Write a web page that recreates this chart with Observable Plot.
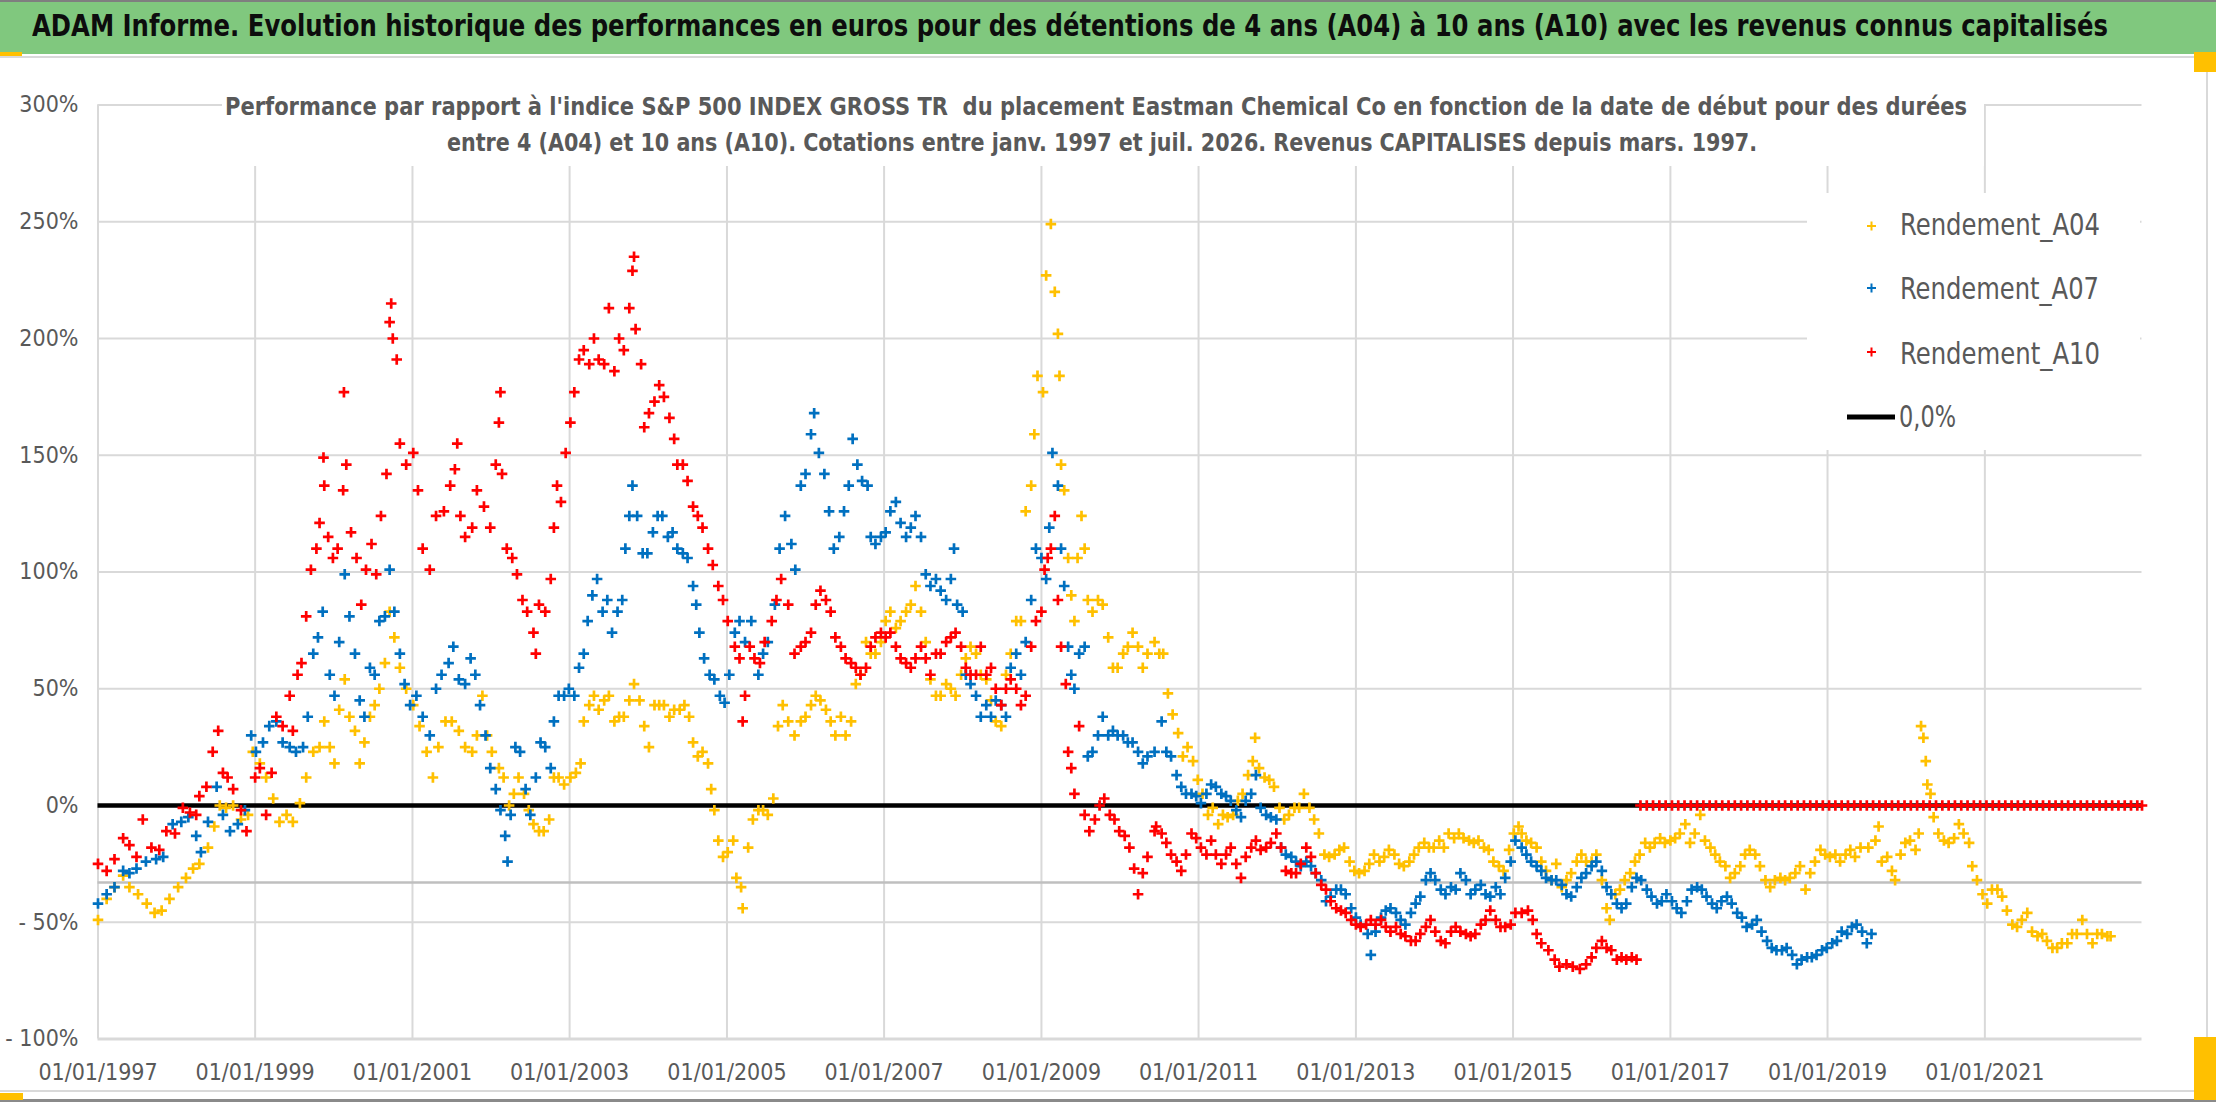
<!DOCTYPE html>
<html>
<head>
<meta charset="utf-8">
<script src="https://cdn.jsdelivr.net/npm/d3@7"></script>
<script src="https://cdn.jsdelivr.net/npm/@observablehq/plot@0.6"></script>
<style>
  body { margin: 0; background: #fff; }
  #chart { position: relative; width: 2216px; height: 1102px; overflow: hidden;
    font-family: "Liberation Sans Narrow", "DejaVu Sans Condensed", "Roboto", sans-serif; }
  #titlebar { position: absolute; left: 0; top: 0; width: 2216px; height: 54px; background: #80c87e;
    border-top: 2px solid #7f7f7f; box-sizing: border-box; }
  #frame { position: absolute; left: 0; top: 56px; width: 2208px; height: 1036px;
    border: 2px solid #d9d9d9; border-left: none; box-sizing: border-box; }
  #bottomline { position: absolute; left: 0; top: 1099px; width: 2216px; height: 3px; background: #8a8a8a; }
  #plot { position: absolute; left: 0; top: 54px; }
  .fit { position: absolute; white-space: pre; transform-origin: 0 0; line-height: 1; }
  #title { top: 11px; font-size: 30px; font-weight: bold; color: #0d0d0d; }
  #subbox { position: absolute; left: 222px; top: 88px; width: 1762px; height: 78px; background: #fff; }
  .sub { font-size: 25px; font-weight: bold; color: #595959; }
  .leg { font-size: 30px; color: #595959; }
  #legend { position: absolute; left: 1807px; top: 193px; width: 333px; height: 257px; background: #fff; }
  .handle { position: absolute; background: #ffc000; }
</style>
</head>
<body>
<div id="chart">
  <div id="frame"></div>
  <div id="plot"></div>
  <div id="titlebar"></div>
  <div id="title" class="fit"></div>
  <div id="subbox"></div>
  <div id="sub1" class="fit sub"></div>
  <div id="sub2" class="fit sub"></div>
  <div id="legend"></div>
  <div id="bottomline"></div>
</div>
<script>
// Texts
const titleText = "ADAM Informe. Evolution historique des performances en euros pour des détentions de 4 ans (A04) à 10 ans (A10) avec les revenus connus capitalisés";
const subtitleLines = [
  "Performance par rapport à l'indice S&P 500 INDEX GROSS TR  du placement Eastman Chemical Co en fonction de la date de début pour des durées",
  "entre 4 (A04) et 10 ans (A10). Cotations entre janv. 1997 et juil. 2026. Revenus CAPITALISES depuis mars. 1997."
];
const seriesNames = ["Rendement_A04", "Rendement_A07", "Rendement_A10"];
const zeroName = "0,0%";

// Axes
const xTickYears = [1997, 1999, 2001, 2003, 2005, 2007, 2009, 2011, 2013, 2015, 2017, 2019, 2021];
const xDomainYears = [1997, 2023];
const yTicks = [-100, -50, 0, 50, 100, 150, 200, 250, 300];
const yDomain = [-100, 300];
const thresholdLevel = -33; // grey horizontal line under the zero line

// Series: [start date as decimal year, performance in %]
const a04 = [
[1997.00,-49],[1997.11,-40],[1997.21,-35],[1997.32,-30],[1997.40,-35],[1997.51,-38],[1997.62,-42],[1997.72,-46],[1997.81,-45],[1997.91,-40],
[1998.02,-35],[1998.12,-31],[1998.21,-27],[1998.29,-25],[1998.40,-18],[1998.48,-9],[1998.55,0],[1998.63,-1],[1998.72,0],[1998.82,-6],[1998.91,-4],[1998.97,23],
[1999.06,18],[1999.14,12],[1999.23,3],[1999.31,-7],[1999.40,-4],[1999.48,-7],[1999.57,1],[1999.65,12],[1999.74,23],[1999.82,25],[1999.88,36],[1999.95,25],
[2000.01,18],[2000.07,41],[2000.14,54],[2000.20,38],[2000.27,32],[2000.33,18],[2000.39,27],[2000.46,38],[2000.52,43],[2000.58,50],[2000.65,61],[2000.71,83],[2000.77,72],[2000.84,59],[2000.92,50],
[2001.01,43],[2001.09,34],[2001.18,23],[2001.26,12],[2001.33,25],[2001.42,36],[2001.50,36],[2001.59,32],[2001.67,25],[2001.76,23],[2001.82,30],[2001.89,47],[2001.95,30],
[2002.01,23],[2002.10,16],[2002.16,12],[2002.23,0],[2002.29,5],[2002.35,12],[2002.42,5],[2002.48,-2],[2002.54,-8],[2002.61,-11],[2002.67,-11],[2002.74,-6],[2002.80,12],[2002.86,12],[2002.93,9],
[2003.01,12],[2003.08,14],[2003.14,18],[2003.18,36],[2003.25,43],[2003.31,47],[2003.37,41],[2003.44,45],[2003.50,47],[2003.57,36],[2003.63,38],[2003.69,38],[2003.76,45],[2003.82,52],[2003.89,45],[2003.95,34],
[2004.01,25],[2004.08,43],[2004.14,43],[2004.20,43],[2004.27,38],[2004.33,41],[2004.40,41],[2004.46,43],[2004.52,38],[2004.57,27],[2004.63,21],[2004.69,23],[2004.76,18],[2004.80,7],[2004.84,-2],[2004.89,-15],[2004.95,-22],
[2005.01,-20],[2005.08,-15],[2005.12,-31],[2005.18,-35],[2005.20,-44],[2005.27,-18],[2005.33,-6],[2005.40,-2],[2005.46,-2],[2005.52,-4],[2005.59,3],[2005.65,34],[2005.71,43],[2005.78,36],[2005.86,30],[2005.94,36],
[2006.00,38],[2006.07,43],[2006.13,47],[2006.19,45],[2006.26,41],[2006.32,36],[2006.38,30],[2006.45,38],[2006.51,30],[2006.58,36],[2006.64,52],[2006.70,56],[2006.77,70],[2006.83,65],[2006.89,65],[2006.96,70],
[2007.02,79],[2007.08,83],[2007.15,76],[2007.21,79],[2007.28,83],[2007.34,86],[2007.40,94],[2007.47,83],[2007.53,70],[2007.59,54],[2007.66,47],[2007.72,47],[2007.79,52],[2007.85,50],[2007.91,47],[2007.98,56],
[2008.04,63],[2008.10,68],[2008.17,65],[2008.23,56],[2008.30,54],[2008.36,45],[2008.42,36],[2008.49,34],[2008.55,56],[2008.61,65],[2008.68,79],[2008.74,79],[2008.80,126],[2008.87,137],[2008.91,159],[2008.95,184],
[2009.02,177],[2009.06,227],[2009.12,249],[2009.17,220],[2009.21,202],[2009.23,184],[2009.25,146],[2009.29,135],[2009.34,106],[2009.38,90],[2009.42,79],[2009.46,106],[2009.51,124],[2009.55,110],[2009.59,88],[2009.65,83],[2009.72,88],[2009.78,86],[2009.85,72],[2009.91,59],[2009.97,59],
[2010.04,65],[2010.10,68],[2010.16,74],[2010.23,68],[2010.29,59],[2010.35,65],[2010.44,70],[2010.50,65],[2010.55,65],[2010.61,48],[2010.67,39],[2010.74,31],[2010.80,21],[2010.86,25],[2010.93,19],[2010.99,11],
[2011.05,5],[2011.12,-4],[2011.18,-1],[2011.25,-8],[2011.31,-4],[2011.37,-5],[2011.44,-4],[2011.50,2],[2011.56,5],[2011.63,13],[2011.69,19],[2011.72,29],[2011.77,16],[2011.84,12],[2011.90,11],[2011.96,8],
[2012.03,-1],[2012.09,-6],[2012.15,-4],[2012.22,-1],[2012.28,-1],[2012.34,5],[2012.41,-1],[2012.47,-6],[2012.53,-12],[2012.60,-21],[2012.66,-22],[2012.73,-21],[2012.79,-19],[2012.85,-18],[2012.92,-24],[2012.98,-28],
[2013.04,-29],[2013.11,-28],[2013.17,-25],[2013.23,-21],[2013.30,-24],[2013.36,-22],[2013.42,-19],[2013.49,-21],[2013.55,-25],[2013.61,-26],[2013.68,-24],[2013.74,-21],[2013.80,-18],[2013.87,-16],[2013.93,-18],[2013.99,-18],
[2014.06,-15],[2014.12,-18],[2014.18,-12],[2014.25,-14],[2014.31,-12],[2014.37,-14],[2014.44,-15],[2014.50,-16],[2014.56,-15],[2014.63,-18],[2014.69,-19],[2014.75,-24],[2014.82,-26],[2014.88,-28],[2014.95,-19],
[2015.01,-12],[2015.07,-9],[2015.11,-12],[2015.17,-15],[2015.23,-16],[2015.30,-18],[2015.36,-24],[2015.42,-28],[2015.49,-32],[2015.55,-25],[2015.62,-35],[2015.68,-32],[2015.74,-29],[2015.81,-24],[2015.87,-21],[2015.93,-24],
[2016.00,-24],[2016.06,-21],[2016.13,-32],[2016.19,-44],[2016.23,-49],[2016.30,-38],[2016.36,-36],[2016.42,-32],[2016.49,-29],[2016.55,-24],[2016.61,-21],[2016.68,-16],[2016.74,-18],[2016.80,-16],[2016.87,-14],[2016.93,-16],
[2017.00,-15],[2017.06,-14],[2017.12,-12],[2017.19,-8],[2017.25,-16],[2017.31,-12],[2017.38,-4],[2017.44,-15],[2017.51,-18],[2017.57,-21],[2017.63,-24],[2017.70,-26],[2017.76,-31],[2017.82,-29],[2017.89,-26],[2017.95,-21],
[2018.01,-19],[2018.08,-21],[2018.14,-26],[2018.21,-32],[2018.27,-35],[2018.33,-32],[2018.40,-31],[2018.46,-32],[2018.52,-31],[2018.59,-29],[2018.65,-26],[2018.72,-36],[2018.78,-29],[2018.84,-24],[2018.91,-19],[2018.97,-21],
[2019.03,-22],[2019.10,-21],[2019.16,-24],[2019.23,-21],[2019.29,-19],[2019.35,-22],[2019.42,-18],[2019.52,-18],[2019.61,-15],[2019.65,-9],[2019.69,-24],[2019.76,-22],[2019.82,-28],[2019.86,-32],[2019.93,-21],[2019.99,-16],
[2020.05,-15],[2020.12,-19],[2020.16,-12],[2020.19,34],[2020.22,29],[2020.25,19],[2020.27,9],[2020.31,5],[2020.35,-5],[2020.41,-12],[2020.48,-15],[2020.54,-16],[2020.61,-14],[2020.67,-8],[2020.73,-12],[2020.80,-16],[2020.84,-26],[2020.90,-32],[2020.97,-38],
[2021.03,-42],[2021.09,-36],[2021.16,-36],[2021.22,-39],[2021.28,-45],[2021.35,-51],[2021.41,-52],[2021.47,-49],[2021.54,-46],[2021.60,-54],[2021.67,-56],[2021.73,-55],[2021.79,-58],[2021.86,-61],[2021.92,-61],[2021.98,-59],
[2022.05,-59],[2022.11,-55],[2022.17,-55],[2022.24,-49],[2022.30,-55],[2022.37,-59],[2022.43,-55],[2022.49,-55],[2022.56,-56],[2022.60,-56]
];

const a07 = [
[1997.00,-42],[1997.11,-38],[1997.21,-35],[1997.32,-28],[1997.40,-29],[1997.49,-27],[1997.61,-24],[1997.74,-23],[1997.83,-22],[1997.95,-8],
[1998.06,-7],[1998.15,-5],[1998.25,-13],[1998.31,-20],[1998.40,-7],[1998.51,8],[1998.59,-4],[1998.68,-11],[1998.78,-8],[1998.87,-2],[1998.95,30],
[1999.01,23],[1999.10,27],[1999.18,34],[1999.27,36],[1999.35,27],[1999.44,25],[1999.52,23],[1999.61,25],[1999.67,38],[1999.74,65],[1999.80,72],[1999.86,83],[1999.95,56],
[2000.01,47],[2000.07,70],[2000.14,99],[2000.20,81],[2000.27,65],[2000.33,45],[2000.39,38],[2000.46,59],[2000.52,56],[2000.58,79],[2000.65,81],[2000.71,101],[2000.77,83],[2000.84,65],[2000.90,52],[2000.97,43],
[2001.05,47],[2001.13,38],[2001.22,30],[2001.30,50],[2001.37,56],[2001.46,61],[2001.52,68],[2001.59,54],[2001.67,52],[2001.74,63],[2001.80,56],[2001.86,43],[2001.93,30],[2001.99,16],
[2002.06,7],[2002.12,-2],[2002.18,-13],[2002.21,-24],[2002.25,-4],[2002.31,25],[2002.37,23],[2002.44,7],[2002.50,-4],[2002.57,12],[2002.63,27],[2002.69,25],[2002.76,16],[2002.80,36],[2002.86,47],[2002.93,47],[2002.99,50],
[2003.06,47],[2003.12,59],[2003.18,65],[2003.23,79],[2003.29,90],[2003.35,97],[2003.42,83],[2003.48,88],[2003.54,74],[2003.61,83],[2003.67,88],[2003.71,110],[2003.76,124],[2003.80,137],[2003.86,124],[2003.93,108],[2003.99,108],
[2004.06,117],[2004.12,124],[2004.18,124],[2004.25,115],[2004.31,117],[2004.37,110],[2004.44,108],[2004.50,106],[2004.57,94],[2004.61,86],[2004.65,74],[2004.71,63],[2004.78,56],[2004.84,54],[2004.91,47],[2004.97,44],
[2005.03,56],[2005.10,74],[2005.16,79],[2005.23,70],[2005.31,79],[2005.40,56],[2005.46,65],[2005.52,70],[2005.61,86],[2005.67,110],[2005.74,124],[2005.82,112],[2005.87,101],[2005.94,137],
[2006.00,142],[2006.07,159],[2006.11,168],[2006.17,151],[2006.24,142],[2006.30,126],[2006.36,110],[2006.43,115],[2006.49,126],[2006.55,137],[2006.60,157],[2006.66,146],[2006.72,139],[2006.79,137],[2006.83,115],[2006.89,112],[2006.96,115],
[2007.02,117],[2007.08,126],[2007.15,130],[2007.21,121],[2007.28,115],[2007.34,119],[2007.40,124],[2007.47,115],[2007.53,99],[2007.59,94],[2007.66,97],[2007.72,92],[2007.79,88],[2007.85,97],[2007.89,110],[2007.93,86],
[2008.00,83],[2008.04,56],[2008.10,52],[2008.17,47],[2008.23,38],[2008.30,43],[2008.36,38],[2008.42,45],[2008.49,43],[2008.55,38],[2008.61,59],[2008.68,65],[2008.74,56],[2008.80,70],[2008.87,88],[2008.93,110],
[2009.00,106],[2009.06,97],[2009.10,119],[2009.14,151],[2009.21,137],[2009.25,110],[2009.29,94],[2009.34,68],[2009.38,56],[2009.42,50],[2009.48,65],[2009.55,68],[2009.59,21],[2009.65,23],[2009.72,30],[2009.78,38],[2009.85,30],[2009.91,32],[2009.97,30],
[2010.04,30],[2010.10,27],[2010.16,27],[2010.23,23],[2010.29,18],[2010.35,21],[2010.44,23],[2010.53,36],[2010.59,23],[2010.65,21],[2010.72,13],[2010.78,8],[2010.84,5],[2010.91,5],[2010.97,4],
[2011.03,1],[2011.10,5],[2011.16,9],[2011.22,8],[2011.29,5],[2011.35,4],[2011.41,2],[2011.48,-2],[2011.54,-5],[2011.60,2],[2011.67,5],[2011.73,13],[2011.79,-1],[2011.86,-4],[2011.92,-5],[2011.99,-6],
[2012.05,-18],[2012.11,-21],[2012.18,-22],[2012.24,-24],[2012.30,-26],[2012.37,-24],[2012.43,-26],[2012.49,-29],[2012.56,-32],[2012.62,-41],[2012.68,-39],[2012.75,-36],[2012.81,-36],[2012.87,-38],[2012.94,-44],
[2013.00,-48],[2013.06,-51],[2013.15,-55],[2013.19,-64],[2013.25,-54],[2013.32,-48],[2013.38,-45],[2013.44,-44],[2013.51,-46],[2013.57,-49],[2013.63,-51],[2013.70,-46],[2013.76,-42],[2013.82,-39],[2013.89,-32],[2013.95,-29],
[2014.01,-32],[2014.08,-36],[2014.14,-38],[2014.21,-35],[2014.27,-36],[2014.33,-29],[2014.40,-32],[2014.46,-38],[2014.52,-36],[2014.59,-34],[2014.65,-38],[2014.71,-39],[2014.78,-35],[2014.84,-38],[2014.90,-31],[2014.97,-24],
[2015.03,-15],[2015.11,-18],[2015.17,-21],[2015.23,-24],[2015.30,-26],[2015.36,-28],[2015.42,-31],[2015.49,-32],[2015.55,-32],[2015.62,-34],[2015.68,-38],[2015.74,-39],[2015.81,-35],[2015.87,-31],[2015.93,-29],
[2016.00,-26],[2016.06,-24],[2016.13,-28],[2016.19,-35],[2016.25,-38],[2016.32,-42],[2016.38,-44],[2016.44,-42],[2016.51,-35],[2016.57,-31],[2016.63,-32],[2016.70,-36],[2016.76,-39],[2016.83,-42],[2016.89,-41],[2016.95,-38],
[2017.02,-41],[2017.08,-44],[2017.14,-46],[2017.21,-41],[2017.27,-36],[2017.34,-35],[2017.40,-36],[2017.46,-39],[2017.53,-42],[2017.59,-44],[2017.65,-41],[2017.72,-39],[2017.78,-42],[2017.85,-46],[2017.91,-48],[2017.97,-52],
[2018.04,-51],[2018.10,-49],[2018.16,-54],[2018.23,-58],[2018.29,-61],[2018.35,-62],[2018.42,-62],[2018.48,-61],[2018.55,-64],[2018.61,-68],[2018.67,-66],[2018.74,-65],[2018.80,-65],[2018.86,-64],[2018.93,-62],[2018.99,-61],
[2019.06,-59],[2019.12,-58],[2019.18,-54],[2019.25,-55],[2019.31,-52],[2019.37,-51],[2019.44,-54],[2019.50,-59],[2019.56,-55]
];

const a10 = [
[1997.00,-25],[1997.11,-28],[1997.21,-23],[1997.32,-14],[1997.40,-17],[1997.49,-22],[1997.57,-6],[1997.68,-18],[1997.78,-19],[1997.87,-11],[1997.98,-12],
[1998.08,-1],[1998.17,-3],[1998.25,-4],[1998.29,4],[1998.38,8],[1998.46,23],[1998.53,32],[1998.59,14],[1998.65,12],[1998.72,7],[1998.82,-2],[1998.89,-11],
[1999.00,12],[1999.06,16],[1999.14,-4],[1999.21,14],[1999.27,38],[1999.35,34],[1999.44,47],[1999.48,32],[1999.54,56],[1999.59,61],[1999.65,81],[1999.71,101],[1999.78,110],[1999.82,121],[1999.87,149],[1999.88,137],[1999.93,115],[1999.99,106],
[2000.05,110],[2000.12,135],[2000.13,177],[2000.16,146],[2000.22,117],[2000.29,106],[2000.35,86],[2000.41,101],[2000.48,112],[2000.54,99],[2000.60,124],[2000.67,142],[2000.71,207],[2000.73,215],[2000.75,200],[2000.80,191],[2000.84,155],[2000.92,146],
[2001.01,151],[2001.07,135],[2001.13,110],[2001.22,101],[2001.30,124],[2001.40,126],[2001.48,137],[2001.54,144],[2001.57,155],[2001.61,124],[2001.67,115],[2001.76,119],[2001.82,135],[2001.91,128],[2001.99,119],
[2002.06,146],[2002.10,164],[2002.12,177],[2002.14,142],[2002.20,110],[2002.27,106],[2002.33,99],[2002.40,88],[2002.46,83],[2002.54,74],[2002.57,65],[2002.61,86],[2002.69,83],[2002.76,97],[2002.80,119],[2002.84,137],[2002.89,130],[2002.95,151],
[2003.01,164],[2003.06,177],[2003.12,191],[2003.18,195],[2003.25,189],[2003.31,200],[2003.37,191],[2003.44,189],[2003.50,213],[2003.57,186],[2003.63,200],[2003.69,195],[2003.76,213],[2003.80,229],[2003.82,235],[2003.84,204],[2003.91,189],[2003.95,162],
[2004.01,168],[2004.08,173],[2004.14,180],[2004.20,175],[2004.27,166],[2004.33,157],[2004.37,146],[2004.44,146],[2004.50,139],[2004.57,128],[2004.63,124],[2004.69,119],[2004.76,110],[2004.82,103],[2004.89,94],[2004.95,88],
[2005.01,79],[2005.10,68],[2005.16,63],[2005.20,36],[2005.23,47],[2005.29,68],[2005.35,63],[2005.42,61],[2005.48,70],[2005.57,79],[2005.63,88],[2005.69,97],[2005.78,86],[2005.86,65],[2005.94,68],
[2006.00,70],[2006.07,74],[2006.13,86],[2006.19,92],[2006.26,88],[2006.32,83],[2006.38,72],[2006.45,68],[2006.51,63],[2006.58,61],[2006.64,59],[2006.70,56],[2006.77,59],[2006.83,68],[2006.89,72],[2006.96,74],
[2007.02,72],[2007.08,74],[2007.15,68],[2007.21,63],[2007.28,61],[2007.34,59],[2007.40,63],[2007.47,68],[2007.53,63],[2007.59,56],[2007.66,65],[2007.72,65],[2007.79,70],[2007.85,72],[2007.91,74],[2007.98,68],
[2008.04,59],[2008.10,56],[2008.17,56],[2008.23,68],[2008.30,56],[2008.36,59],[2008.42,50],[2008.49,43],[2008.55,50],[2008.61,54],[2008.68,50],[2008.74,43],[2008.80,47],[2008.87,68],[2008.93,79],
[2009.00,83],[2009.04,101],[2009.08,106],[2009.12,110],[2009.17,124],[2009.21,88],[2009.25,68],[2009.31,52],[2009.34,23],[2009.38,16],[2009.42,5],[2009.48,34],[2009.55,-4],[2009.61,-11],[2009.68,-6],[2009.74,0],[2009.80,3],[2009.87,-4],[2009.93,-6],[2009.99,-11],
[2010.06,-13],[2010.12,-18],[2010.18,-27],[2010.23,-38],[2010.29,-29],[2010.35,-22],[2010.44,-11],[2010.46,-9],[2010.53,-12],[2010.59,-16],[2010.65,-21],[2010.72,-24],[2010.78,-28],[2010.84,-21],[2010.91,-12],[2010.97,-14],
[2011.03,-18],[2011.10,-21],[2011.16,-15],[2011.22,-21],[2011.29,-25],[2011.35,-21],[2011.41,-18],[2011.48,-25],[2011.54,-31],[2011.60,-22],[2011.67,-18],[2011.73,-15],[2011.79,-19],[2011.86,-18],[2011.92,-16],[2011.99,-12],
[2012.05,-18],[2012.11,-28],[2012.18,-29],[2012.24,-29],[2012.30,-25],[2012.37,-18],[2012.43,-22],[2012.49,-29],[2012.56,-34],[2012.62,-36],[2012.68,-41],[2012.75,-44],[2012.81,-45],[2012.87,-46],[2012.94,-49],
[2013.00,-51],[2013.06,-52],[2013.13,-51],[2013.19,-49],[2013.25,-51],[2013.32,-49],[2013.38,-52],[2013.44,-54],[2013.51,-52],[2013.57,-55],[2013.63,-56],[2013.70,-58],[2013.76,-58],[2013.82,-55],[2013.89,-52],[2013.95,-49],
[2014.01,-54],[2014.08,-58],[2014.14,-59],[2014.21,-54],[2014.27,-52],[2014.33,-54],[2014.40,-55],[2014.46,-56],[2014.52,-55],[2014.59,-51],[2014.65,-49],[2014.71,-45],[2014.78,-49],[2014.84,-52],[2014.90,-52],[2014.97,-51],
[2015.03,-46],[2015.11,-46],[2015.19,-45],[2015.25,-49],[2015.30,-55],[2015.36,-59],[2015.45,-62],[2015.53,-66],[2015.59,-69],[2015.68,-68],[2015.76,-69],[2015.85,-70],[2015.93,-68],
[2016.00,-65],[2016.06,-61],[2016.13,-58],[2016.19,-61],[2016.25,-62],[2016.32,-66],[2016.38,-65],[2016.44,-66],[2016.51,-65],[2016.57,-66],
[2016.62,0],[2016.70,0],[2016.78,0],[2016.86,0],[2016.94,0],[2017.02,0],[2017.10,0],[2017.18,0],[2017.26,0],[2017.34,0],[2017.42,0],[2017.50,0],[2017.58,0],[2017.66,0],[2017.74,0],[2017.82,0],[2017.90,0],[2017.98,0],
[2018.06,0],[2018.14,0],[2018.22,0],[2018.30,0],[2018.38,0],[2018.46,0],[2018.54,0],[2018.62,0],[2018.70,0],[2018.78,0],[2018.86,0],[2018.94,0],[2019.02,0],[2019.10,0],[2019.18,0],[2019.26,0],[2019.34,0],[2019.42,0],
[2019.50,0],[2019.58,0],[2019.66,0],[2019.74,0],[2019.82,0],[2019.90,0],[2019.98,0],[2020.06,0],[2020.14,0],[2020.22,0],[2020.30,0],[2020.38,0],[2020.46,0],[2020.54,0],[2020.62,0],[2020.70,0],[2020.78,0],[2020.86,0],
[2020.94,0],[2021.02,0],[2021.10,0],[2021.18,0],[2021.26,0],[2021.34,0],[2021.42,0],[2021.50,0],[2021.58,0],[2021.66,0],[2021.74,0],[2021.82,0],[2021.90,0],[2021.98,0],[2022.06,0],[2022.14,0],[2022.22,0],[2022.30,0],
[2022.38,0],[2022.46,0],[2022.54,0],[2022.62,0],[2022.70,0],[2022.78,0],[2022.86,0],[2022.94,0],[2023.00,0]
];

const colors = { a04: "#FFC000", a07: "#0070C0", a10: "#FF0000" };

// decimal year -> Date
function toDate(t) {
  const y = Math.floor(t);
  const s = Date.UTC(y, 0, 1), e = Date.UTC(y + 1, 0, 1);
  return new Date(s + (t - y) * (e - s));
}
const rows = arr => arr.map(([t, v]) => ({ date: toDate(t), value: v }));

const xTicks = xTickYears.map(y => new Date(Date.UTC(y, 0, 1)));
const pct = d => d === 0 ? "0%" : d < 0 ? "- " + Math.abs(d) + "%" : d + "%";

const font = '"Liberation Sans Narrow", "DejaVu Sans Condensed", "Roboto", sans-serif';
const dotOpts = color => ({ x: "date", y: "value", symbol: "plus", r: 3.5, stroke: color, strokeWidth: 2.7 });

const plot = Plot.plot({
  width: 2216,
  height: 1048,
  marginLeft: 97.5,
  marginRight: 74.5,
  marginTop: 50.5,
  marginBottom: 63.5,
  style: { background: "transparent", fontFamily: font, fontSize: "23px", color: "#595959" },
  x: {
    type: "utc",
    domain: xDomainYears.map(y => new Date(Date.UTC(y, 0, 1))),
    ticks: xTicks,
    tickFormat: d3.utcFormat("%d/%m/%Y"),
    tickSize: 0,
    tickPadding: 25,
    label: null
  },
  y: {
    domain: yDomain,
    ticks: yTicks,
    tickFormat: pct,
    tickSize: 0,
    tickPadding: 19.5,
    label: null
  },
  marks: [
    Plot.ruleY(yTicks.filter(d => d !== 0 && d !== -100), { stroke: "#d9d9d9", strokeWidth: 2 }),
    Plot.ruleX(xTicks, { stroke: "#d9d9d9", strokeWidth: 2 }),
    Plot.ruleY([-100], { stroke: "#d9d9d9", strokeWidth: 3 }),
    Plot.ruleY([thresholdLevel], { stroke: "#bfbfbf", strokeWidth: 2.5 }),
    Plot.ruleY([0], { stroke: "#000", strokeWidth: 4.5 }),
    Plot.dot(rows(a04), dotOpts(colors.a04)),
    Plot.dot(rows(a07), dotOpts(colors.a07)),
    Plot.dot(rows(a10), dotOpts(colors.a10))
  ]
});
document.getElementById("plot").appendChild(plot);

// Legend (Excel style) drawn on top of the white legend box
const legendRows = [
  { name: seriesNames[0], color: colors.a04, cy: 226, top: 209.5 },
  { name: seriesNames[1], color: colors.a07, cy: 288, top: 273.5 },
  { name: seriesNames[2], color: colors.a10, cy: 352, top: 338.5 }
];
const lsvg = d3.select("#chart").append("svg")
  .style("position", "absolute").style("left", "0px").style("top", "0px")
  .attr("width", 2216).attr("height", 1102).style("pointer-events", "none");
legendRows.forEach(r => {
  lsvg.append("path").attr("d", `M1867,${r.cy}h9M1871.5,${r.cy - 4.5}v9`)
    .attr("stroke", r.color).attr("stroke-width", 2);
});
lsvg.append("line").attr("x1", 1847).attr("x2", 1895).attr("y1", 417).attr("y2", 417)
  .attr("stroke", "#000").attr("stroke-width", 5);

function addText(id, cls, text, top) {
  const el = document.createElement("div");
  el.id = id; el.className = "fit " + cls; el.textContent = text;
  el.style.top = top + "px";
  document.getElementById("chart").appendChild(el);
  return el;
}
function fit(el, left, right) {
  el.style.left = left + "px";
  el.style.transform = "none";
  const w = el.getBoundingClientRect().width;
  el.style.transform = `scaleX(${(right - left) / w})`;
}

document.getElementById("title").textContent = titleText;
document.getElementById("sub1").textContent = subtitleLines[0];
document.getElementById("sub2").textContent = subtitleLines[1];
document.getElementById("sub1").style.top = "94px";
document.getElementById("sub2").style.top = "130px";

const legTexts = [
  addText("l1", "leg", legendRows[0].name, legendRows[0].top),
  addText("l2", "leg", legendRows[1].name, legendRows[1].top),
  addText("l3", "leg", legendRows[2].name, legendRows[2].top),
  addText("l4", "leg", zeroName, 401.5)
];

fit(document.getElementById("title"), 32, 2108);
fit(document.getElementById("sub1"), 225, 1967);
fit(document.getElementById("sub2"), 447, 1757);
fit(legTexts[0], 1900, 2100);
fit(legTexts[1], 1900, 2099);
fit(legTexts[2], 1900, 2100);
fit(legTexts[3], 1899, 1956);

// Excel selection handles
[[0, 52, 22, 4], [2194, 52, 22, 20], [0, 1093, 23, 7], [2194, 1037, 22, 63]].forEach(([l, t, w, h]) => {
  const d = document.createElement("div");
  d.className = "handle";
  Object.assign(d.style, { left: l + "px", top: t + "px", width: w + "px", height: h + "px" });
  document.getElementById("chart").appendChild(d);
});
</script>
</body>
</html>
